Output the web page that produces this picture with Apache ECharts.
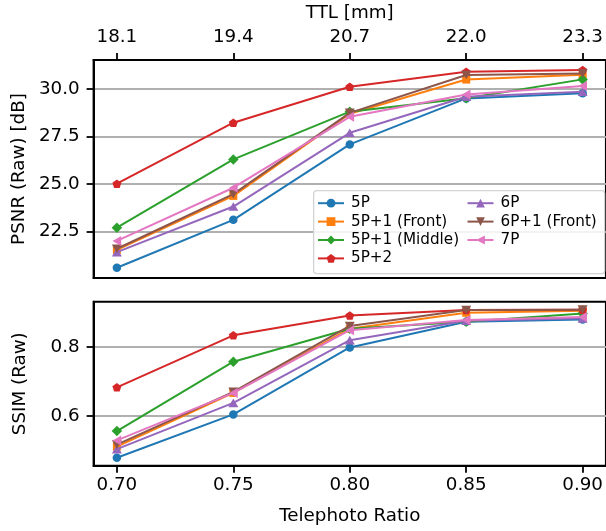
<!DOCTYPE html>
<html>
<head>
<meta charset="utf-8">
<script src="https://cdn.jsdelivr.net/npm/echarts@6/dist/echarts.min.js"></script>
<style>html,body{margin:0;padding:0;background:#fff}#c{width:606px;height:531px}</style>
</head>
<body>
<div id="c"></div>
<script>
// ---- data ----
var telephoto = [0.70, 0.75, 0.80, 0.85, 0.90];
var ttlLabels = ['18.1', '19.4', '20.7', '22.0', '23.3'];
var seriesNames = ['5P', '5P+1 (Front)', '5P+1 (Middle)', '5P+2', '6P', '6P+1 (Front)', '7P'];
var psnr_5P      = [20.6, 23.12, 27.09, 29.51, 29.78];
var psnr_5P1F    = [21.54, 24.38, 28.70, 30.50, 30.76];
var psnr_5P1M    = [22.71, 26.30, 28.81, 29.52, 30.51];
var psnr_5P2     = [25.02, 28.23, 30.12, 30.91, 31.00];
var psnr_6P      = [21.42, 23.82, 27.70, 29.60, 29.86];
var psnr_6P1F    = [21.60, 24.47, 28.75, 30.74, 30.82];
var psnr_7P      = [22.01, 24.81, 28.54, 29.72, 30.16];
var ssim_5P      = [0.480, 0.605, 0.798, 0.872, 0.879];
var ssim_5P1F    = [0.512, 0.667, 0.852, 0.898, 0.904];
var ssim_5P1M    = [0.557, 0.757, 0.852, 0.872, 0.896];
var ssim_5P2     = [0.683, 0.833, 0.890, 0.906, 0.907];
var ssim_6P      = [0.505, 0.638, 0.819, 0.875, 0.882];
var ssim_6P1F    = [0.518, 0.670, 0.860, 0.906, 0.907];
var ssim_7P      = [0.530, 0.667, 0.848, 0.877, 0.886];
var psnrTicks = [22.5, 25.0, 27.5, 30.0];
var ssimTicks = [0.6, 0.8];

var psnrAll = [psnr_5P, psnr_5P1F, psnr_5P1M, psnr_5P2, psnr_6P, psnr_6P1F, psnr_7P];
var ssimAll = [ssim_5P, ssim_5P1F, ssim_5P1M, ssim_5P2, ssim_6P, ssim_6P1F, ssim_7P];

// ---- styles ----
var colors = ['#1f77b4', '#ff7f0e', '#2ca02c', '#d62728', '#9467bd', '#8c564b', '#e377c2'];
var symbols = [
  'circle',
  'rect',
  'diamond',
  'path://M5,0 L9.755,3.455 L7.939,9.045 L2.061,9.045 L0.245,3.455 Z',
  'path://M5,0 L10,8.66 L0,8.66 Z',
  'path://M0,0 L10,0 L5,8.66 Z',
  'path://M0,5 L8.66,0 L8.66,10 Z'
];
var symbolSizes = [8.5, 8, 10.5, 9, 10, 10, 10];
var FONT = 'DejaVu Sans';
var FS = 18.3;
var LFS = 15.2;

function zip(xs, ys) { return xs.map(function (x, i) { return [x, ys[i]]; }); }

var series = [];
seriesNames.forEach(function (n, i) {
  [0, 1].forEach(function (g) {
    series.push({
      name: n,
      type: 'line',
      xAxisIndex: g === 0 ? 0 : 2,
      yAxisIndex: g,
      data: zip(telephoto, g === 0 ? psnrAll[i] : ssimAll[i]),
      symbol: symbols[i],
      symbolSize: symbolSizes[i],
      symbolKeepAspect: true,
      showAllSymbol: true,
      lineStyle: { color: colors[i], width: 2 },
      itemStyle: { color: colors[i], borderWidth: 0 },
      emphasis: { disabled: true },
      animation: false,
      z: 2 + i
    });
  });
});

var xMin = 0.69, xMax = 0.91;
var axisLineStyle = { color: '#000', width: 2 };
function xAxisBase(gridIndex) {
  return {
    type: 'value', gridIndex: gridIndex, min: xMin, max: xMax,
    axisLine: { show: true, lineStyle: axisLineStyle },
    axisTick: { show: true, length: 7, inside: false, customValues: telephoto, lineStyle: { color: '#000', width: 1.8 } },
    splitLine: { show: false },
    axisLabel: { customValues: telephoto, color: '#000', fontFamily: FONT, fontSize: FS, margin: 10.5 }
  };
}
var xTop = xAxisBase(0);
xTop.position = 'top';
xTop.name = 'TTL [mm]';
xTop.nameLocation = 'middle';
xTop.nameGap = 38;
xTop.nameTextStyle = { color: '#000', fontFamily: FONT, fontSize: FS };
xTop.axisLabel.formatter = function (v) {
  for (var i = 0; i < telephoto.length; i++) if (Math.abs(telephoto[i] - v) < 1e-6) return ttlLabels[i];
  return '';
};
xTop.axisLabel.margin = 14;

var xHidden = xAxisBase(0);
xHidden.position = 'bottom';
xHidden.axisTick.show = false;
xHidden.axisLabel.show = false;

var xBottom = xAxisBase(1);
xBottom.position = 'bottom';
xBottom.name = 'Telephoto Ratio';
xBottom.nameLocation = 'middle';
xBottom.nameGap = 41.5;
xBottom.nameTextStyle = { color: '#000', fontFamily: FONT, fontSize: FS };
xBottom.axisLabel.formatter = function (v) { return v.toFixed(2); };

function yAxis(gridIndex, min, max, ticks, name, fmt, gap) {
  return {
    type: 'value', gridIndex: gridIndex, min: min, max: max,
    name: name, nameLocation: 'middle', nameGap: gap, nameRotate: 90,
    nameTextStyle: { color: '#000', fontFamily: FONT, fontSize: FS },
    axisLine: { show: true, lineStyle: axisLineStyle },
    axisTick: { show: true, length: 7, customValues: ticks, lineStyle: { color: '#000', width: 1.8 } },
    axisLabel: { customValues: ticks, color: '#000', fontFamily: FONT, fontSize: FS, margin: 14, formatter: fmt },
    splitLine: { show: true, lineStyle: { color: '#b0b0b0', width: 1.8 } }
  };
}

function legendCfg(names, left) {
  return {
    data: names, orient: 'vertical', left: left, top: 194,
    itemWidth: 26, itemHeight: 11, itemGap: 0,
    textStyle: { color: '#000', fontFamily: FONT, fontSize: LFS, lineHeight: 18.4, padding: [0, 0, 0, 2] },
    selectedMode: false, z: 20, padding: 0
  };
}

var option = {
  backgroundColor: '#fff',
  animation: false,
  grid: [
    { left: 93.6, top: 60, width: 514.4, height: 218, containLabel: false, show: true, borderColor: '#000', borderWidth: 2, backgroundColor: 'transparent' },
    { left: 93.6, top: 301.7, width: 514.4, height: 164, containLabel: false, show: true, borderColor: '#000', borderWidth: 2, backgroundColor: 'transparent' }
  ],
  xAxis: [xTop, xHidden, xBottom],
  yAxis: [
    yAxis(0, 20.06, 31.53, psnrTicks, 'PSNR (Raw) [dB]', function (v) { return v.toFixed(1); }, 64),
    yAxis(1, 0.457, 0.930, ssimTicks, 'SSIM (Raw)', function (v) { return v.toFixed(1); }, 64)
  ],
  legend: [legendCfg(seriesNames.slice(0, 4), 317), legendCfg(seriesNames.slice(4), 466.5)],
  graphic: [
    { type: 'rect', left: 313, top: 190, z: 15, shape: { width: 291, height: 83, r: 3 },
      style: { fill: 'rgba(255,255,255,0.85)', stroke: '#d3d3d3', lineWidth: 1.3 } }
  ],
  series: series
};

var chart = echarts.init(document.getElementById('c'), null, { renderer: 'canvas' });
chart.setOption(option);
</script>
</body>
</html>
